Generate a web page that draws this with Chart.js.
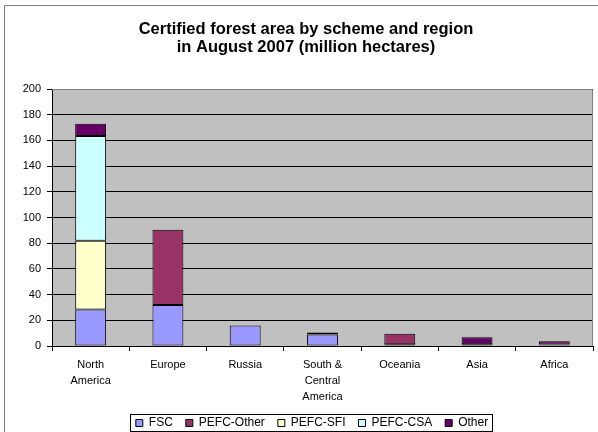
<!DOCTYPE html>
<html>
<head>
<meta charset="utf-8">
<script src="https://cdn.jsdelivr.net/npm/chart.js@4/dist/chart.umd.min.js"></script>
<style>
  html, body { margin: 0; padding: 0; background: #ffffff; }
  #wrap { width: 598px; height: 432px; }
</style>
</head>
<body>
<div id="wrap"><canvas id="c" width="598" height="432"></canvas></div>
<script>
// Certified forest area (million hectares), August 2007
const regions = [['North', 'America'], ['Europe'], ['Russia'], ['South &', 'Central', 'America'], ['Oceania'], ['Asia'], ['Africa']];
const fsc       = [28.5, 32, 16, 9, 1.3, 1.3, 1.2];
const pefcOther = [null, 58.5, null, null, 8.3, null, null];
const pefcSfi   = [53.5, null, null, null, null, null, null];
const pefcCsa   = [81.5, null, null, null, null, null, null];
const other     = [9.5, null, null, 1.5, null, 5.5, 2.5];
const yTicks    = { min: 0, max: 200, step: 20 };

const titleLines = ['Certified forest area by scheme and region', 'in August 2007 (million hectares)'];
const FONT = "'Liberation Sans', Arial, sans-serif";

function series(label, data, color) {
  return {
    label, data,
    backgroundColor: color,
    borderColor: '#000000',
    borderWidth: 1,
    borderSkipped: false,
    barPercentage: 0.4,
    categoryPercentage: 1.0,
    stack: 'area'
  };
}

// Outer frame, plot background and legend outline
const decorations = {
  id: 'decorations',
  afterLayout(chart) {
    // nudge the legend row a little to the right of the title's centre line
    chart.legend.left += 6;
    chart.legend.right += 6;
  },
  beforeDraw(chart) {
    const { ctx, chartArea: a } = chart;
    ctx.save();
    ctx.fillStyle = '#ffffff';
    ctx.fillRect(0, 0, chart.width, chart.height);
    ctx.strokeStyle = '#808080';
    ctx.lineWidth = 1;
    ctx.beginPath();
    ctx.moveTo(4.5, chart.height);
    ctx.lineTo(4.5, 5.5);
    ctx.lineTo(chart.width, 5.5);
    ctx.stroke();
    ctx.fillStyle = '#c0c0c0';
    ctx.fillRect(a.left, a.top, a.right - a.left, a.bottom - a.top);
    ctx.restore();
  },
  afterDraw(chart) {
    const { ctx, chartArea: a } = chart;
    ctx.save();
    ctx.strokeStyle = '#808080';
    ctx.lineWidth = 1;
    ctx.beginPath();
    ctx.moveTo(a.left, a.top + 0.5);
    ctx.lineTo(a.right - 0.5, a.top + 0.5);
    ctx.lineTo(a.right - 0.5, a.bottom);
    ctx.stroke();
    const hb = chart.legend.legendHitBoxes;
    if (hb && hb.length) {
      const first = hb[0], last = hb[hb.length - 1];
      const l = Math.round(first.left) - 5.5;
      const r = Math.round(last.left + last.width) + 4.5;
      const mid = Math.round(first.top + first.height / 2);
      ctx.strokeStyle = '#000000';
      ctx.strokeRect(l, mid - 8.5, r - l, 17);
    }
    ctx.restore();
  }
};

new Chart(document.getElementById('c'), {
  type: 'bar',
  data: {
    labels: regions,
    datasets: [
      series('FSC', fsc, '#9999ff'),
      series('PEFC-Other', pefcOther, '#993366'),
      series('PEFC-SFI', pefcSfi, '#ffffcc'),
      series('PEFC-CSA', pefcCsa, '#ccffff'),
      series('Other', other, '#660066')
    ]
  },
  options: {
    responsive: false,
    devicePixelRatio: 1,
    animation: false,
    layout: { padding: { left: 19, right: 5, top: 0, bottom: 0 } },
    plugins: {
      tooltip: { enabled: false },
      title: {
        display: true,
        text: titleLines,
        color: '#000000',
        font: { family: FONT, size: 16.5, weight: 'bold', lineHeight: 18 / 16.5 },
        padding: { top: 20, bottom: 33 }
      },
      legend: {
        display: true,
        position: 'bottom',
        maxHeight: 28,
        labels: {
          color: '#000000',
          font: { family: FONT, size: 12 },
          boxWidth: 7,
          boxHeight: 7,
          padding: 13
        }
      }
    },
    scales: {
      x: {
        stacked: true,
        afterFit(scale) { scale.height = 58; },
        grid: { display: true, drawOnChartArea: false, drawTicks: true, tickLength: 5, color: '#000000', offset: true },
        border: { display: true, color: '#000000' },
        ticks: {
          color: '#000000',
          font: { family: FONT, size: 11, lineHeight: 1.45 },
          maxRotation: 0,
          autoSkip: false,
          padding: 6
        }
      },
      y: {
        stacked: true,
        min: yTicks.min,
        max: yTicks.max,
        afterFit(scale) { scale.width = 52 - 19; },
        grid: { color: '#000000', tickLength: 5 },
        border: { display: true, color: '#000000' },
        ticks: {
          stepSize: yTicks.step,
          color: '#000000',
          font: { family: FONT, size: 11 },
          padding: 6
        }
      }
    }
  },
  plugins: [decorations]
});
</script>
</body>
</html>
